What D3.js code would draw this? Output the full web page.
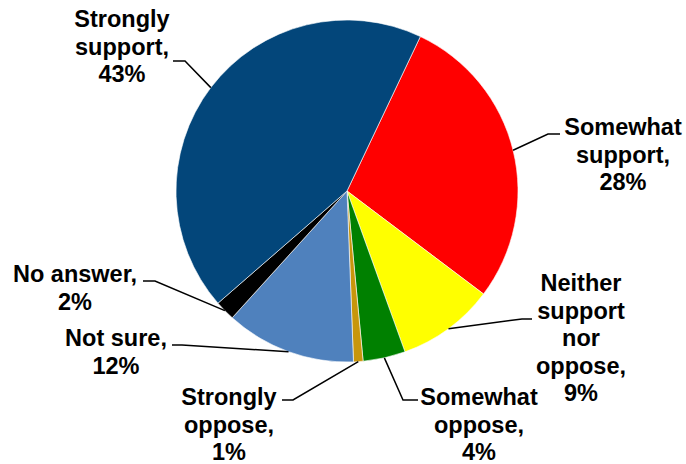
<!DOCTYPE html>
<html>
<head>
<meta charset="utf-8">
<script src="https://cdn.jsdelivr.net/npm/d3@7"></script>
<style>
  body { margin: 0; background: #fff; }
  svg { display: block; font-family: "Liberation Sans", Arial, sans-serif; }
</style>
</head>
<body>
<div id="chart"></div>
<script>
// Pie chart of support / opposition shares

// Data (clockwise from the Somewhat support slice)
const categories = ["Somewhat support", "Neither support nor oppose", "Somewhat oppose",
                    "Strongly oppose", "Not sure", "No answer", "Strongly support"];
const shares = [28.2, 9.2, 4.0, 0.9, 12.3, 1.9, 43.4];
const labelLines = [
  ["Somewhat", "support,", "28%"],
  ["Neither", "support", "nor", "oppose,", "9%"],
  ["Somewhat", "oppose,", "4%"],
  ["Strongly", "oppose,", "1%"],
  ["Not sure,", "12%"],
  ["No answer,", "2%"],
  ["Strongly", "support,", "43%"]
];
const colors = ["#ff0000", "#ffff00", "#008000", "#c8960c", "#4f81bd", "#000000", "#03467a"];

// Label layout: text centre x, first baseline, elbow of leader line, end of horizontal stub
const labelLayout = [
  { x: 623, y: 135, elbow: [548, 134], stub: 560 },
  { x: 581, y: 291, elbow: [522, 319], stub: 532 },
  { x: 479, y: 405, elbow: [403, 400], stub: 418 },
  { x: 229, y: 405, elbow: [293, 400], stub: 282 },
  { x: 116, y: 346, elbow: [182, 345], stub: 172 },
  { x: 75,  y: 282, elbow: [155, 281], stub: 143 },
  { x: 122, y: 27,  elbow: [185, 61],  stub: 173 }
];

const width = 686, height = 464;
const cx = 347, cy = 191, radius = 171;
const lineHeight = 27.5;

const svg = d3.select("#chart").append("svg")
  .attr("width", width)
  .attr("height", height);

const startDeg = 25.4;
const pie = d3.pie()
  .sort(null)
  .value(d => d)
  .startAngle(startDeg * Math.PI / 180)
  .endAngle(startDeg * Math.PI / 180 + 2 * Math.PI);

const arcs = pie(shares);
const arc = d3.arc().innerRadius(0).outerRadius(radius);

const g = svg.append("g").attr("transform", `translate(${cx},${cy})`);

g.selectAll("path.slice")
  .data(arcs)
  .enter()
  .append("path")
  .attr("class", "slice")
  .attr("d", arc)
  .attr("fill", (d, i) => colors[i])
  .attr("stroke", "#ffffff")
  .attr("stroke-width", 0.6);

// Leader lines: from slice's outer mid-point to elbow then short horizontal stub
arcs.forEach((d, i) => {
  const mid = (d.startAngle + d.endAngle) / 2;
  const px = cx + radius * Math.sin(mid);
  const py = cy - radius * Math.cos(mid);
  const L = labelLayout[i];
  svg.append("polyline")
    .attr("points", `${px},${py} ${L.elbow[0]},${L.elbow[1]} ${L.stub},${L.elbow[1]}`)
    .attr("fill", "none")
    .attr("stroke", "#000")
    .attr("stroke-width", 1.5);
});

// Labels
labelLines.forEach((lines, i) => {
  const L = labelLayout[i];
  const t = svg.append("text")
    .attr("text-anchor", "middle")
    .attr("font-size", 23.5)
    .attr("font-weight", "bold")
    .attr("fill", "#000");
  lines.forEach((s, j) => {
    t.append("tspan")
      .attr("x", L.x)
      .attr("y", L.y + j * lineHeight)
      .text(s);
  });
});
</script>
</body>
</html>
